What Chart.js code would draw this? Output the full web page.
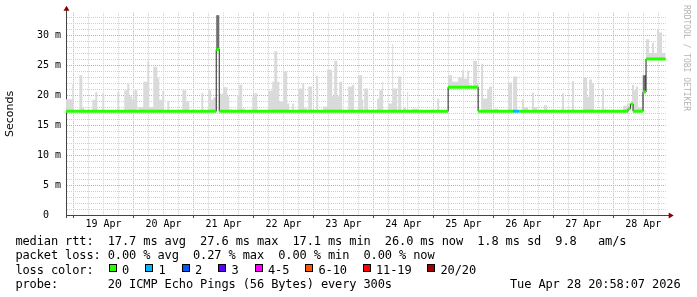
<!DOCTYPE html>
<html><head><meta charset="utf-8">
<script src="https://cdn.jsdelivr.net/npm/chart.js@4/dist/chart.umd.min.js"></script>
<style>
html,body{margin:0;padding:0;background:#fff;}
#wrap{position:relative;width:697px;height:297px;overflow:hidden;background:#fff;}
canvas{position:absolute;left:0;top:0;}
.t{position:absolute;font-family:'DejaVu Sans Mono',monospace;font-size:12px;letter-spacing:-0.12px;line-height:14px;white-space:pre;color:#000;}
.box{position:absolute;width:6px;height:6px;border:1px solid #000;}
#credit{position:absolute;left:681px;top:5px;writing-mode:vertical-rl;font-family:'DejaVu Sans Mono',monospace;font-size:8px;color:#b4b4b4;line-height:10px;white-space:pre;}
</style></head><body>
<div id="wrap"><canvas id="c" width="697" height="297"></canvas><div id="credit">RRDTOOL / TOBI OETIKER</div></div>
<script>
// ---- data (time in hours since Apr 18 00:00, values in ms) ----
const START_H = 20.97;   // Apr 18 20:58
const END_H = 260.97;    // Apr 28 20:58
const dayLabels = ['19 Apr','20 Apr','21 Apr','22 Apr','23 Apr','24 Apr','25 Apr','26 Apr','27 Apr','28 Apr'];
const yTickLabels = ['0','5 m','10 m','15 m','20 m','25 m','30 m'];

const medianT    = [20.97, 81.1, 82.3, 173.9, 185.9, 199.9, 202.3, 245.9, 246.9, 247.9, 251.9, 253.1, 260.97];
const medianV    = [17.3,  27.6, 17.3, 21.3,  17.3,  17.3,  17.3,  17.7,  18.5,  17.3,  20.5,  26.0,  26.0];
const medianLoss = [0,     0,    0,    0,     0,     1,     0,     0,     0,     0,     0,     0,     0];

const smokeT = [20.97,23.5,23.9,26.3,27.5,28.3,31.5,32.7,33.5,35.5,36.3,37.5,38.3,41.5,42.3,44.3,45.5,46.3,47.5,48.3,49.5,49.9,51.9,53.5,54.3,55.9,57.5,58.3,59.5,60.3,61.5,62.3,67.5,69.1,70.3,75.1,75.9,77.9,79.1,79.9,81.1,82.3,83.9,85.5,86.3,87.5,89.5,90.3,91.5,92.7,95.5,96.3,97.5,101.9,103.5,104.3,105.5,106.3,107.9,109.5,110.3,111.5,112.3,113.9,115.5,116.3,117.5,117.9,119.5,121.1,121.9,123.9,125.5,126.3,127.5,128.3,129.5,130.3,131.5,133.9,135.5,136.3,137.9,139.5,139.9,140.3,141.9,145.5,146.3,147.5,147.9,149.9,151.5,151.9,153.5,153.9,155.1,155.9,157.1,157.5,157.9,159.5,161.9,169.5,170.3,173.9,175.5,177.9,179.5,180.3,181.5,182.3,183.5,183.9,185.5,185.9,187.1,187.9,189.5,190.3,191.5,191.9,193.9,197.9,199.5,199.9,201.5,203.5,204.3,205.9,207.5,208.3,209.5,212.3,213.5,219.5,220.3,221.5,223.5,224.3,227.9,229.5,230.3,231.5,232.3,235.5,236.3,237.5,243.9,245.5,247.5,248.3,249.1,249.9,251.5,253.1,254.3,255.5,256.3,257.5,258.3,259.5,260.97];
const smokeTop = [19.3,21.9,17.3,23.3,18.0,17.3,19.2,20.5,17.3,20.3,17.3,17.5,17.3,20.5,17.3,20.8,21.9,19.8,19.2,20.8,17.3,18.0,22.2,25.7,18.0,24.7,22.8,19.2,20.7,17.3,19.0,17.3,20.8,18.9,17.3,20.3,17.3,20.8,19.2,19.6,33.3,20.2,21.3,19.8,17.6,17.3,20.0,21.7,17.7,17.3,19.8,20.3,17.3,20.7,22.2,27.3,22.2,18.9,23.9,18.6,17.3,18.6,17.3,21.1,21.9,17.8,17.3,21.4,17.3,23.2,17.3,18.1,24.3,24.2,19.8,25.7,19.8,22.2,17.3,21.4,21.7,17.3,23.3,19.2,17.3,21.1,17.3,19.4,20.8,22.2,17.3,18.6,28.5,21.1,17.3,23.1,17.3,17.9,17.3,20.5,17.3,17.7,17.3,19.4,17.3,23.3,22.2,22.9,24.1,22.7,24.1,21.7,21.3,25.7,22.0,17.3,25.2,19.4,21.0,21.4,17.3,17.7,17.3,22.1,17.3,23.1,17.3,19.3,18.0,17.3,20.4,18.0,17.3,18.3,17.3,20.3,17.5,17.3,22.3,17.3,22.9,19.7,22.6,22.0,17.3,21.1,17.6,17.3,18.2,18.6,21.7,20.8,21.4,18.0,23.3,29.3,27.0,28.7,27.0,30.9,30.4,27.0,27.0];

const denseT   = [20.97, 81.1, 82.3, 173.9, 185.9, 245.9, 246.9, 247.9, 251.9, 253.1, 260.97];
const denseTop = [17.3,  33.3, 17.3, 21.3,  17.3,  17.7,  18.5,  17.3,  23.3,  26.0,  26.0];

const lossLabels = ['0','1','2','3','4-5','6-10','11-19','20/20'];
const lossColors = ['#26ff00','#00b8ff','#0059ff','#5e00ff','#ff00ff','#ff5500','#ff0000','#a10000'];

const rttStats  = ['17.7 ms avg','27.6 ms max','17.1 ms min','26.0 ms now','1.8 ms sd','9.8   am/s'];
const lossStats = ['0.00 % avg','0.27 % max','0.00 % min','0.00 % now'];
const probeText = '20 ICMP Echo Pings (56 Bytes) every 300s';
const stampText = 'Tue Apr 28 20:58:07 2026';

// ---- legend text (HTML) ----
const wrap = document.getElementById('wrap');
function txt(s, left, top){ const d=document.createElement('div'); d.className='t'; d.textContent=s; d.style.left=left+'px'; d.style.top=top+'px'; wrap.appendChild(d); return d; }
const rowTop = [234, 248.3, 262.5, 276.7];
txt('median rtt:  ' + rttStats.join('  '), 15.4, rowTop[0]);
txt('packet loss: ' + lossStats.join('  '), 15.4, rowTop[1]);
txt('loss color:', 15.4, rowTop[2]);
let bx = 108.5;
lossLabels.forEach((s,i)=>{
  const b=document.createElement('div'); b.className='box'; b.style.left=bx+'px'; b.style.top='264px'; b.style.background=lossColors[i]; wrap.appendChild(b);
  txt(s, bx+13.5, rowTop[2]);
  bx = bx + 13.5 + s.length*7 + 16;
});
txt('probe:       ' + probeText, 15.4, rowTop[3]);
const st = txt(stampText, 0, rowTop[3]); st.style.left='auto'; st.style.right='16.5px';

// ---- chart ----
Chart.defaults.font.family = "'DejaVu Sans Mono', monospace";
Chart.defaults.font.size = 10;
Chart.defaults.color = '#000';

const pts = (T,V)=>T.map((t,i)=>({x:t,y:V[i]}));
const greenData = [], greenLoss = [];
for (let i=0;i<medianT.length-1;i++){
  greenData.push({x:medianT[i],y:medianV[i]},{x:medianT[i+1],y:medianV[i]});
  greenLoss.push(medianLoss[i],medianLoss[i]);
  if (i<medianT.length-2){ greenData.push({x:medianT[i+1],y:null}); greenLoss.push(0); }
}

const arrows = {
  id:'arrows',
  afterDraw(chart){
    const {ctx, chartArea:a} = chart;
    const yb = Math.round(a.bottom)+0.5, xl = Math.round(a.left)+0.5;
    ctx.save();
    ctx.strokeStyle='#444'; ctx.lineWidth=1;
    ctx.beginPath(); ctx.moveTo(a.right, yb); ctx.lineTo(a.right+4, yb);
    ctx.moveTo(xl, a.top); ctx.lineTo(xl, a.top-3);
    ctx.moveTo(xl, a.bottom); ctx.lineTo(xl, a.bottom+3); ctx.stroke();
    ctx.fillStyle='#8b0000';
    ctx.beginPath(); ctx.moveTo(a.right+3, yb-3); ctx.lineTo(a.right+3, yb+3); ctx.lineTo(a.right+8, yb); ctx.closePath(); ctx.fill();
    ctx.beginPath(); ctx.moveTo(xl-3, a.top-2); ctx.lineTo(xl+3, a.top-2); ctx.lineTo(xl, a.top-7); ctx.closePath(); ctx.fill();
    ctx.restore();
  }
};

new Chart(document.getElementById('c'), {
  type:'line',
  data:{ datasets:[
    { data:greenData, borderWidth:3, borderCapStyle:'butt', pointRadius:0, spanGaps:false, fill:false,
      segment:{ borderColor: c => lossColors[greenLoss[c.p0DataIndex]] } },
    { data:pts(medianT,medianV), stepped:true, borderColor:'#222', borderWidth:1, pointRadius:0, fill:false },
    { data:pts(denseT,denseTop), stepped:true, borderWidth:0, borderColor:'rgba(0,0,0,0)', pointRadius:0, fill:1, backgroundColor:'#6e6e6e' },
    { data:pts(smokeT,smokeTop), stepped:true, borderWidth:0, borderColor:'rgba(0,0,0,0)', pointRadius:0, fill:1, backgroundColor:'#dadada' }
  ]},
  options:{
    responsive:false, animation:false, devicePixelRatio:1,
    layout:{ padding:{ left:0, top:12.8, right:31.3, bottom:62 } },
    plugins:{ legend:{display:false}, tooltip:{enabled:false} },
    scales:{
      x:{ type:'linear', min:START_H, max:END_H,
        afterBuildTicks: s => { const t=[]; for(let v=24; v<=END_H; v+=6) t.push({value:v}); s.ticks=t; },
        afterFit: s => { s.height = 20; },
        ticks:{ autoSkip:false, maxRotation:0, minRotation:0, padding:0,
          callback: v => (v%24===12) ? dayLabels[(v-36)/24] : '' },
        grid:{ color: c => (c.tick && c.tick.value%24===0) ? '#e6a0a0' : '#cfcfcf',
               tickColor: c => (c.tick && c.tick.value%24===0) ? '#444' : 'rgba(0,0,0,0)', tickLength:3 },
        border:{ color:'#444', width:1, dash:[1,1] }
      },
      y:{ min:0, max:33.7,
        afterBuildTicks: s => { const t=[]; for(let v=0; v<=33; v++) t.push({value:v}); s.ticks=t; },
        afterFit: s => { s.width = 66; },
        ticks:{ autoSkip:false, padding:5,
          callback: v => (v%5===0) ? (v===0 ? yTickLabels[0]+'  ' : yTickLabels[v/5]) : '' },
        grid:{ color: c => (c.tick && c.tick.value%5===0) ? '#e6a0a0' : '#cfcfcf', drawTicks:false },
        border:{ color:'#444', width:1, dash:[1,1] },
        title:{ display:true, text:'Seconds', font:{ family:"'DejaVu Sans', sans-serif", size:11 }, color:'#000', padding:{top:4,bottom:4} }
      }
    }
  },
  plugins:[arrows]
});
</script>
</body></html>
